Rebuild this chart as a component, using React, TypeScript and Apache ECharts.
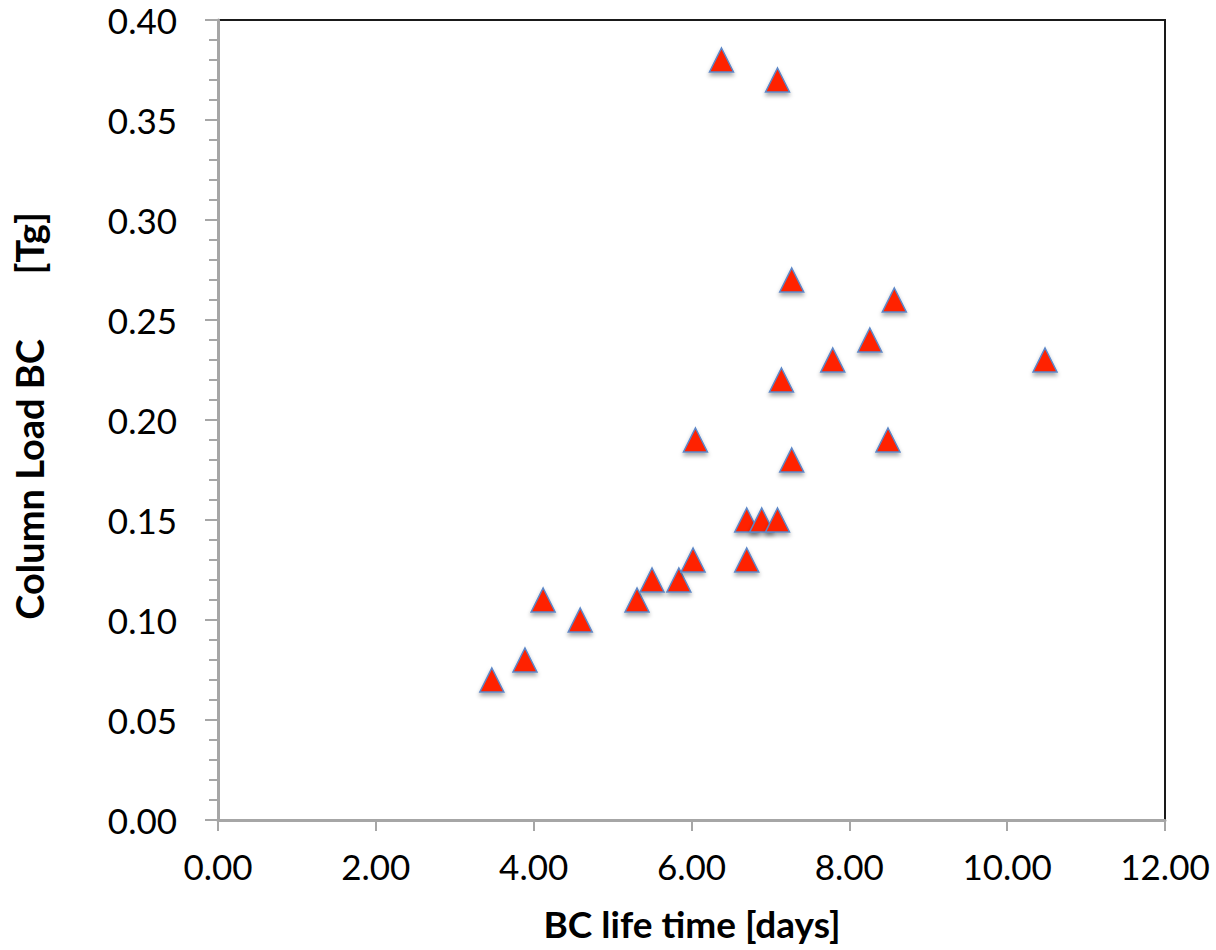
import React, { useEffect, useRef } from "react";
import * as echarts from "echarts";

const lifeTimeDays = [3.47, 3.89, 4.12, 4.59, 5.31, 5.5, 5.84, 6.02, 6.05, 6.38, 7.09, 6.7, 6.7, 6.89, 7.09, 7.14, 7.27, 7.27, 7.79, 8.26, 8.57, 8.49, 10.48];
const columnLoadTg = [0.07, 0.08, 0.11, 0.1, 0.11, 0.12, 0.12, 0.13, 0.19, 0.38, 0.37, 0.13, 0.15, 0.15, 0.15, 0.22, 0.18, 0.27, 0.23, 0.24, 0.26, 0.19, 0.23];

const xTitle = "BC life time [days]";
const yTitle = "Column Load BC\u00a0\u00a0\u00a0\u00a0\u00a0\u00a0\u00a0[Tg]";

export default function App() {
  const ref = useRef<HTMLDivElement>(null);
  useEffect(() => {
    if (!ref.current) return;
    const chart = echarts.init(ref.current, undefined, { renderer: "svg" });
    const points = lifeTimeDays.map((x, i) => [x, columnLoadTg[i]]);
    const font = "Lato, 'Open Sans', sans-serif";
    chart.setOption({
      animation: false,
      backgroundColor: "#ffffff",
      grid: {
        left: 218,
        right: 51,
        top: 20,
        bottom: 130,
        show: true,
        borderColor: "#1a1a1a",
        borderWidth: 2,
        backgroundColor: "transparent",
      },
      xAxis: {
        type: "value",
        min: 0,
        max: 12,
        interval: 2,
        axisLine: { show: true, onZero: false, lineStyle: { color: "#a6a6a6", width: 3 } },
        axisTick: { show: true, inside: false, length: 11, lineStyle: { color: "#a6a6a6", width: 2 } },
        minorTick: { show: false },
        splitLine: { show: false },
        axisLabel: {
          color: "#000",
          fontFamily: font,
          fontSize: 35,
          margin: 28,
          formatter: (v: number) => v.toFixed(2),
        },
      },
      yAxis: {
        type: "value",
        min: 0,
        max: 0.4,
        interval: 0.05,
        axisLine: { show: true, onZero: false, lineStyle: { color: "#a6a6a6", width: 3 } },
        axisTick: { show: true, inside: false, length: 13, lineStyle: { color: "#a6a6a6", width: 2 } },
        minorTick: { show: true, splitNumber: 5, length: 9, lineStyle: { color: "#a6a6a6", width: 2 } },
        splitLine: { show: false },
        axisLabel: {
          color: "#000",
          fontFamily: font,
          fontSize: 35,
          margin: 41,
          formatter: (v: number) => v.toFixed(2),
        },
      },
      graphic: [
        {
          type: "text",
          x: 692,
          y: 923,
          style: {
            text: xTitle,
            font: `bold 37px ${font}`,
            fill: "#000",
            textAlign: "center",
            textVerticalAlign: "middle",
          },
        },
        {
          type: "text",
          x: 29,
          y: 416,
          rotation: Math.PI / 2,
          style: {
            text: yTitle,
            font: `bold 38px ${font}`,
            fill: "#000",
            textAlign: "center",
            textVerticalAlign: "middle",
          },
        },
      ],
      series: [
        {
          type: "scatter",
          data: points,
          symbol: "triangle",
          symbolSize: [24, 24],
          itemStyle: {
            color: "#ff2000",
            borderColor: "#5b87c8",
            borderWidth: 1.5,
            shadowBlur: 4,
            shadowColor: "rgba(0,0,0,0.35)",
            shadowOffsetY: 3,
            opacity: 1,
          },
        },
      ],
    });
    return () => chart.dispose();
  }, []);
  return (
    <div
      ref={ref}
      style={{ position: "absolute", left: 0, top: 0, width: 1216, height: 950 }}
    />
  );
}
